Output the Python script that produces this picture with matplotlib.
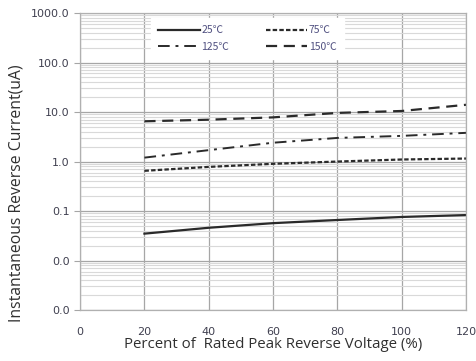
import matplotlib.pyplot as plt
import numpy as np
from matplotlib.ticker import FixedLocator, FormatStrFormatter, LogLocator, NullFormatter

# Valores
voltaje = [20, 40, 60, 80, 100, 120]
i_25 = [0.035, 0.046, 0.057, 0.066, 0.076, 0.083]
i_75 = [0.65, 0.78, 0.90, 1.00, 1.10, 1.15]
i_125 = [1.2, 1.7, 2.4, 3.0, 3.3, 3.8]
i_150 = [6.5, 7.0, 7.8, 9.6, 10.5, 14.0]
etiquetas = ["25\u2103", "75\u2103", "125\u2103", "150\u2103"]

fig = plt.figure(figsize=(4.77, 3.61), dpi=100)
ax = fig.add_axes([0.168, 0.141, 0.809, 0.823])

c = '#2a2a2a'
l25, = ax.plot(voltaje, i_25, color=c, lw=1.6, ls='-', label=etiquetas[0])
l75, = ax.plot(voltaje, i_75, color=c, lw=1.6, ls=(0, (2, 1)), label=etiquetas[1])
l125, = ax.plot(voltaje, i_125, color=c, lw=1.4, ls=(0, (6, 3, 1.5, 3)), label=etiquetas[2])
l150, = ax.plot(voltaje, i_150, color=c, lw=1.6, ls=(0, (5, 3)), label=etiquetas[3])

ax.set_yscale('log')
ax.set_xlim(0, 120)
ax.set_ylim(0.001, 1000)
ax.xaxis.set_major_locator(FixedLocator([0, 20, 40, 60, 80, 100, 120]))
ax.yaxis.set_major_locator(LogLocator(base=10, numticks=10))
ax.yaxis.set_minor_locator(LogLocator(base=10, subs=np.arange(2, 10), numticks=20))
ax.yaxis.set_major_formatter(FormatStrFormatter('%.1f'))
ax.yaxis.set_minor_formatter(NullFormatter())

ax.grid(True, which='minor', axis='y', color='#d9d9d9', lw=0.8)
ax.grid(True, which='major', axis='y', color='#a6a6a6', lw=0.9)
ax.grid(True, which='major', axis='x', color='#a6a6a6', lw=0.9)
ax.set_axisbelow(True)
for s in ax.spines.values():
    s.set_color('#b0b0b0')
    s.set_linewidth(0.9)

ax.tick_params(axis='y', which='major', length=4, color='#a6a6a6', labelsize=8, labelcolor='#404050')
ax.tick_params(axis='y', which='minor', length=0)
ax.tick_params(axis='x', length=0, labelsize=8, labelcolor='#404050', pad=12)

fuente = ['Open Sans', 'DejaVu Sans']
ax.set_xlabel('Percent of  Rated Peak Reverse Voltage (%)', fontsize=10.8, family=fuente, color='#303030', labelpad=0)
ax.set_ylabel('Instantaneous Reverse Current(uA)', fontsize=11.3, family=fuente, color='#303030')
ax.yaxis.set_label_coords(-0.145, 0.394)

# orden por filas: 25, 75 / 125, 150
leg = ax.legend([l25, l125, l75, l150], [etiquetas[0], etiquetas[2], etiquetas[1], etiquetas[3]],
                loc='upper left', bbox_to_anchor=(0.17, 1.0), ncol=2, frameon=True,
                fancybox=False, edgecolor='white', framealpha=1.0, handlelength=4.0,
                columnspacing=3.5, handletextpad=0.15, borderpad=0.7, labelspacing=0.6,
                prop={'family': ['Noto Sans CJK SC', 'DejaVu Sans'], 'size': 7.5})
for t in leg.get_texts():
    t.set_color('#505080')

fig.savefig('out.png', dpi=100)
